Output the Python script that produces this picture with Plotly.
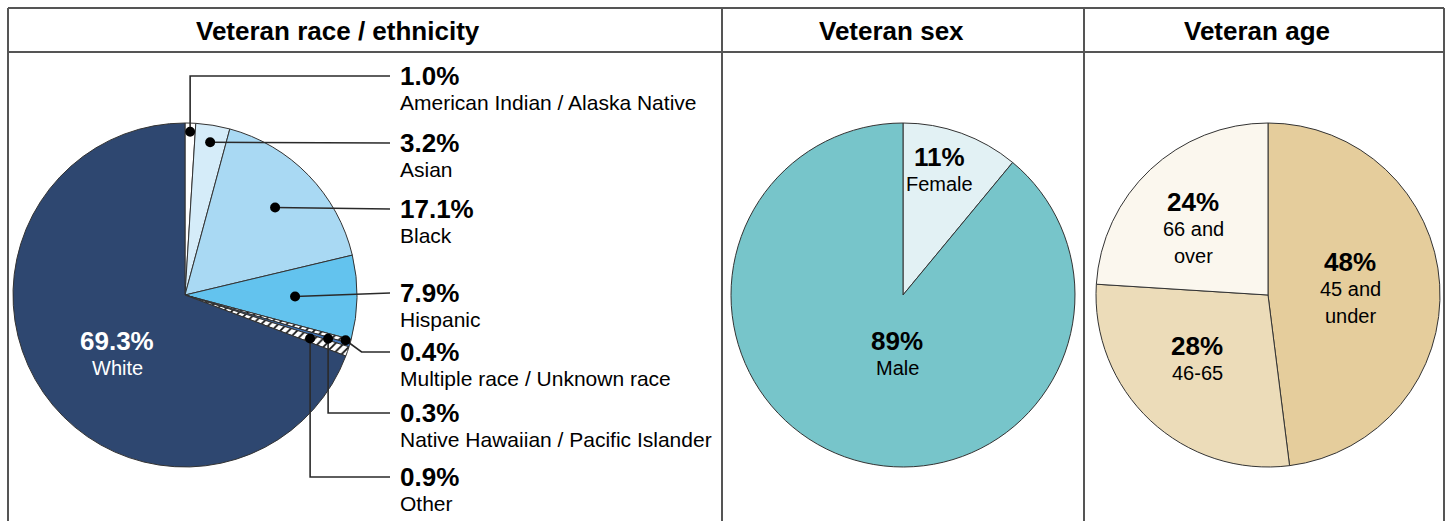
import math
import plotly.graph_objects as go

# ---------------- data ----------------
race_labels = ["American Indian / Alaska Native", "Asian", "Black", "Hispanic",
               "Multiple race / Unknown race", "Native Hawaiian / Pacific Islander",
               "Other", "White"]
race_values = [1.0, 3.2, 17.1, 7.9, 0.4, 0.3, 0.9, 69.3]
race_text = ["1.0%", "3.2%", "17.1%", "7.9%", "0.4%", "0.3%", "0.9%", "69.3%"]

sex_labels = ["Female", "Male"]
sex_values = [11, 89]
sex_text = ["11%", "89%"]

age_labels = ["45 and under", "46-65", "66 and over"]
age_values = [48, 28, 24]
age_text = ["48%", "28%", "24%"]

# ---------------- layout constants ----------------
W, H = 1448, 521
FONT = "Liberation Sans, Arial, sans-serif"
R = 172
CY = 295
race_cx, sex_cx, age_cx = 185, 903, 1268

race_colors = ["#ffffff", "#d5ecf9", "#a9d9f3", "#63c3ee", "#ffffff", "#3f73b8", "#ffffff", "#2e4770"]
race_patterns = ["", "", "", "", "/", "", "/", ""]
sex_colors = ["#e2f1f4", "#77c5ca"]
age_colors = ["#e5cd9c", "#ecdcb9", "#fbf7ee"]

# leader dot radius fraction (for the 7 small labelled slices) and routing
leader_r = [0.95, 0.9, 0.73, 0.64, 0.97, 0.87, 0.77]
leader_route = ["up", "h", "h", "h", "diag", "down", "down"]
label_y = [76, 143, 209, 293, 352, 413, 477]
label_x = 398
line_end_x = 390

PCT_SIZE = 26
LBL_SIZE = 21


def domain(cx):
    return dict(x=[(cx - R) / W, (cx + R) / W],
                y=[(H - CY - R) / H, (H - CY + R) / H])


fig = go.Figure()

line_style = dict(color="#2a2a2a", width=1.6)

fig.add_trace(go.Pie(labels=race_labels, values=race_values, sort=False,
                     direction="clockwise", rotation=0, textinfo="none",
                     hoverinfo="label+percent",
                     marker=dict(colors=race_colors,
                                 line=dict(color="#333333", width=1),
                                 pattern=dict(shape=race_patterns, fgcolor="#111111",
                                              bgcolor="#ffffff", size=6, solidity=0.3)),
                     domain=domain(race_cx), showlegend=False))
fig.add_trace(go.Pie(labels=sex_labels, values=sex_values, sort=False,
                     direction="clockwise", rotation=0, textinfo="none",
                     marker=dict(colors=sex_colors, line=dict(color="#333333", width=1)),
                     domain=domain(sex_cx), showlegend=False))
fig.add_trace(go.Pie(labels=age_labels, values=age_values, sort=False,
                     direction="clockwise", rotation=0, textinfo="none",
                     marker=dict(colors=age_colors, line=dict(color="#333333", width=1)),
                     domain=domain(age_cx), showlegend=False))

# invisible pixel axes for leader lines
fig.update_layout(
    xaxis=dict(range=[0, W], visible=False, fixedrange=True),
    yaxis=dict(range=[H, 0], visible=False, fixedrange=True),
)

shapes = []
annotations = []

total = sum(race_values)
cum = 0
for i, v in enumerate(race_values):
    mid = (cum + v / 2) / total
    cum += v
    if i >= len(leader_r):
        continue
    th = mid * 2 * math.pi
    dx = race_cx + R * leader_r[i] * math.sin(th)
    dy = CY - R * leader_r[i] * math.cos(th)
    ly = label_y[i]
    route = leader_route[i]
    if route == "up" or route == "down":
        path = f"M {dx},{dy} L {dx},{ly} L {line_end_x},{ly}"
    elif route == "diag":
        path = f"M {dx},{dy} L {dx + 16},{ly} L {line_end_x},{ly}"
    else:
        path = f"M {dx},{dy} L {line_end_x},{ly}"
    shapes.append(dict(type="path", path=path, xref="x", yref="y",
                       line=line_style, layer="above"))
    shapes.append(dict(type="circle", xref="x", yref="y",
                       x0=dx - 5, x1=dx + 5, y0=dy - 5, y1=dy + 5,
                       fillcolor="#000000", line=dict(width=0), layer="above"))
    annotations.append(dict(x=label_x, y=ly, xref="x", yref="y", text=f"<b>{race_text[i]}</b>",
                            showarrow=False, xanchor="left", yanchor="middle",
                            font=dict(family=FONT, size=PCT_SIZE, color="#000000")))
    annotations.append(dict(x=label_x, y=ly + 26, xref="x", yref="y", text=race_labels[i],
                            showarrow=False, xanchor="left", yanchor="middle",
                            font=dict(family=FONT, size=LBL_SIZE, color="#000000")))


def inside_label(x, y, pct, lines, color):
    annotations.append(dict(x=x, y=y, xref="x", yref="y", text=f"<b>{pct}</b>",
                            showarrow=False, xanchor="center", yanchor="middle",
                            font=dict(family=FONT, size=PCT_SIZE, color=color)))
    for k, ln in enumerate(lines):
        annotations.append(dict(x=x, y=y + 27 * (k + 1), xref="x", yref="y", text=ln,
                                showarrow=False, xanchor="center", yanchor="middle",
                                font=dict(family=FONT, size=20, color=color)))


inside_label(117, 341, race_text[7], [race_labels[7]], "#ffffff")
inside_label(939, 157, sex_text[0], [sex_labels[0]], "#000000")
inside_label(897, 341, sex_text[1], [sex_labels[1]], "#000000")
inside_label(1350, 262, age_text[0], ["45 and", "under"], "#000000")
inside_label(1197, 346, age_text[1], [age_labels[1]], "#000000")
inside_label(1193, 202, age_text[2], ["66 and", "over"], "#000000")

# headers
for tx, cx in [("Veteran race / ethnicity", 338), ("Veteran sex", 891), ("Veteran age", 1257)]:
    annotations.append(dict(x=cx, y=31, xref="x", yref="y", text=f"<b>{tx}</b>",
                            showarrow=False, xanchor="center", yanchor="middle",
                            font=dict(family=FONT, size=26, color="#000000")))

# table borders
border = dict(color="#555555", width=2)
for x0, y0, x1, y1 in [(8, 8, 1444, 8), (8, 52, 1444, 52), (8, 8, 8, H + 2),
                       (722, 8, 722, H + 2), (1084, 8, 1084, H + 2), (1444, 8, 1444, H + 2)]:
    shapes.append(dict(type="line", xref="x", yref="y", x0=x0, y0=y0, x1=x1, y1=y1,
                       line=border, layer="above"))

fig.update_layout(width=W, height=H, margin=dict(l=0, r=0, t=0, b=0),
                  paper_bgcolor="#ffffff", plot_bgcolor="#ffffff",
                  shapes=shapes, annotations=annotations,
                  font=dict(family=FONT))

fig.write_html("out.html", config={"displayModeBar": False},
               post_script="document.body.style.margin='0';document.body.style.overflow='hidden';")
